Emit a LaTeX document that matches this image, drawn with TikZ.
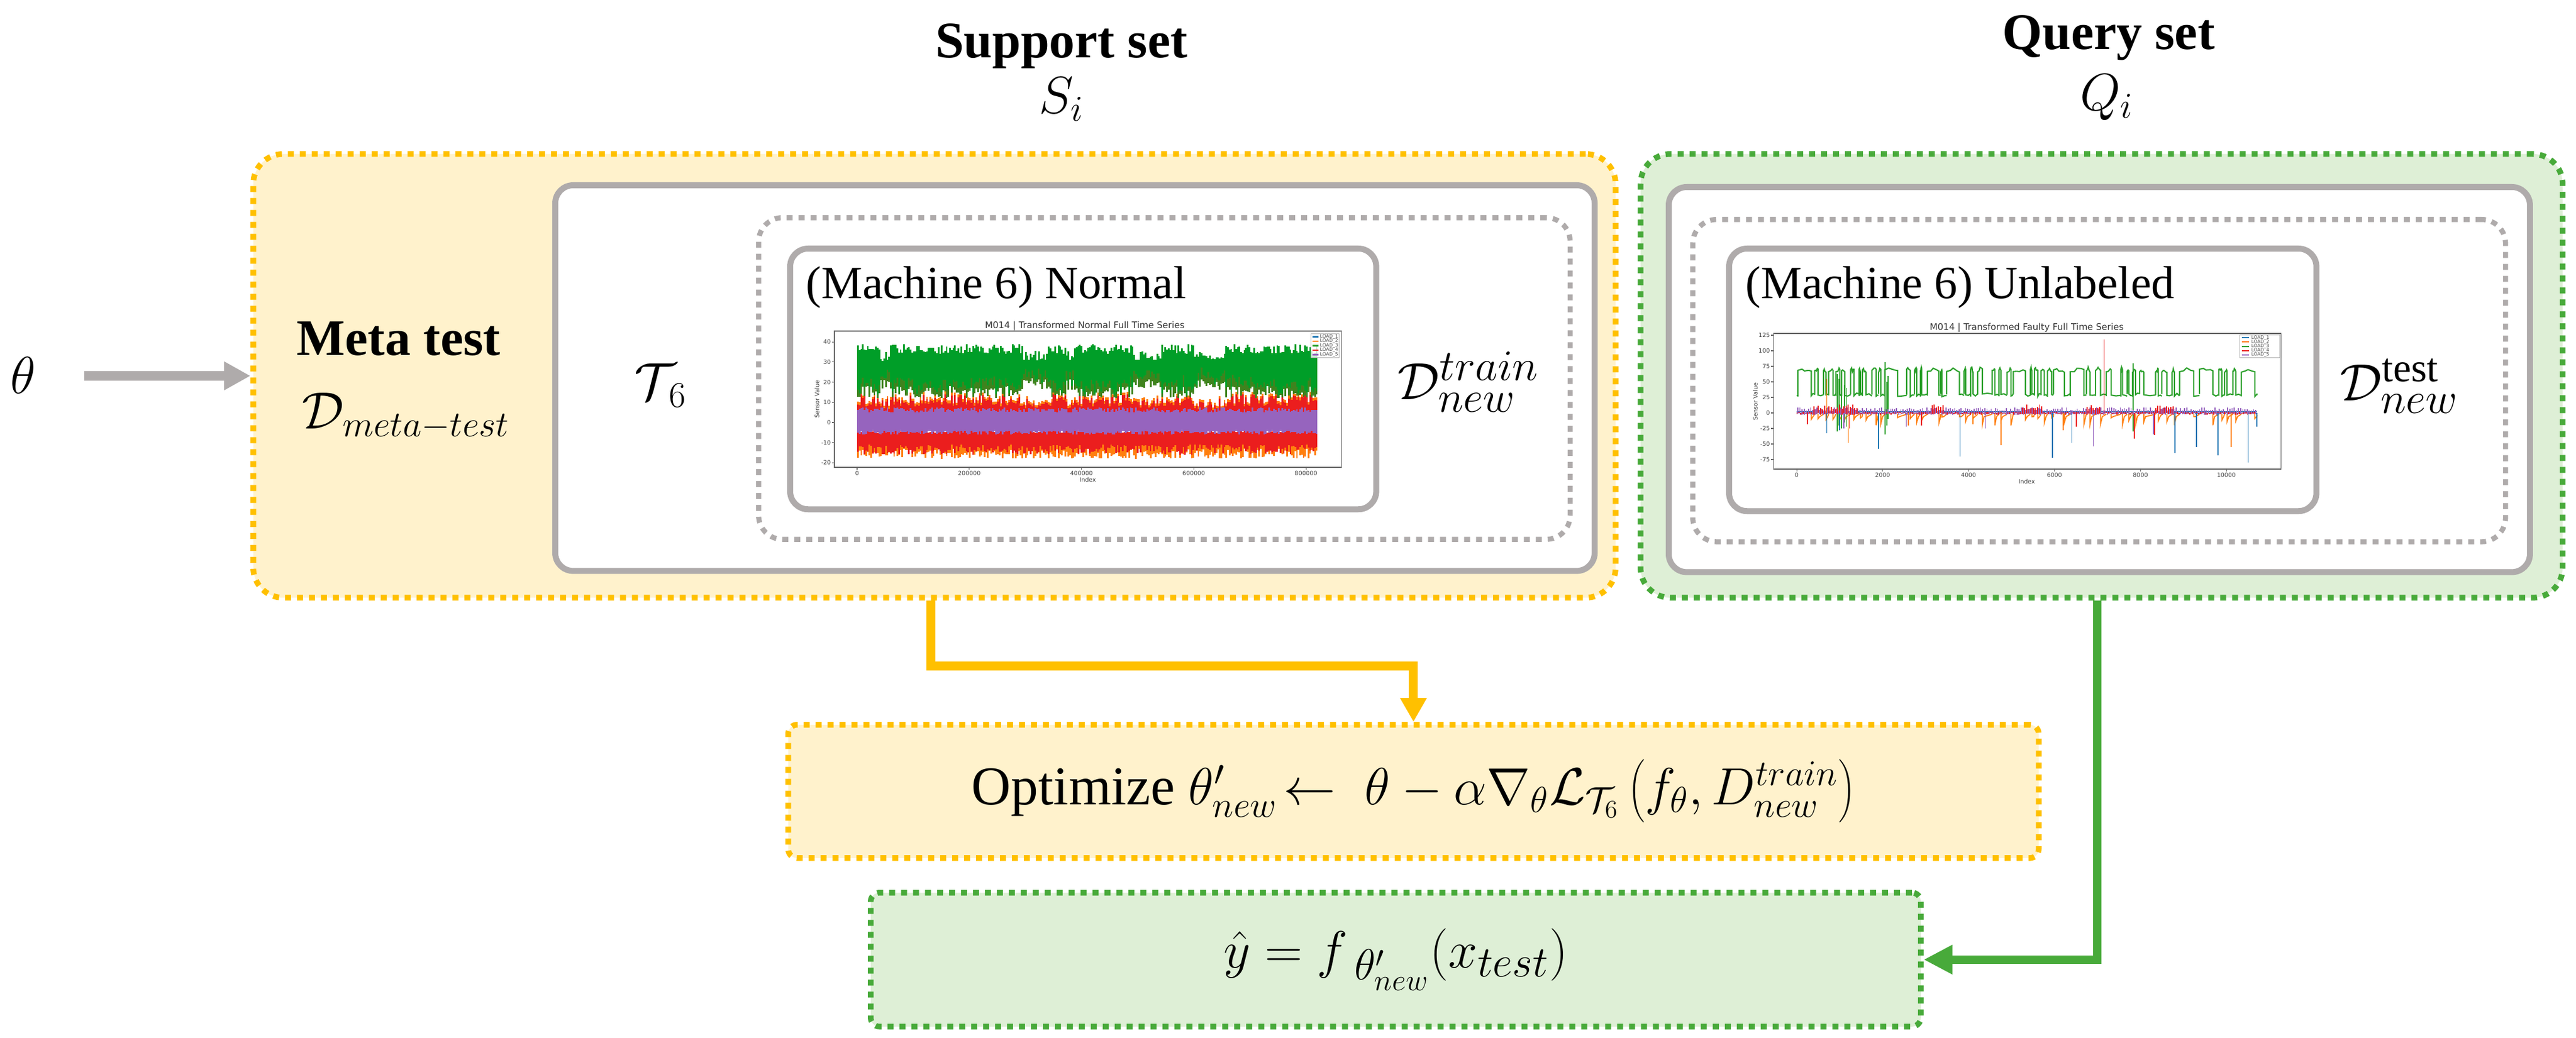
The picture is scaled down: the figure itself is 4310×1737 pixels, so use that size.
\documentclass[tikz,border=0pt]{standalone}
\usepackage{fontspec}
\setmainfont{Liberation Serif}
\newfontfamily\plotfont{DejaVu Sans}
\usetikzlibrary{arrows.meta}
\definecolor{ygold}{RGB}{255,192,0}
\definecolor{yfill}{RGB}{255,242,204}
\definecolor{ggreen}{RGB}{72,170,58}
\definecolor{gfill}{RGB}{222,239,214}
\definecolor{lgrey}{RGB}{175,171,171}
\definecolor{pblue}{RGB}{31,119,180}
\definecolor{porange}{RGB}{255,127,14}
\definecolor{pgreen}{RGB}{0,158,40}
\definecolor{pgreenb}{RGB}{44,160,44}
\definecolor{pred}{RGB}{235,30,30}
\definecolor{ppurple}{RGB}{150,100,190}
\definecolor{pbrown}{RGB}{140,100,20}
\newcommand\setfs[1]{\fontsize{#1}{#1}\selectfont}
\begin{document}
\begin{tikzpicture}[x=0.01cm,y=-0.01cm,
  outerY/.style={draw=ygold, fill=yfill, line width=0.095cm, dash pattern=on 0.1cm off 0.1cm, rounded corners=0.5cm, inner sep=0pt, anchor=north west},
  outerG/.style={draw=ggreen, fill=gfill, line width=0.095cm, dash pattern=on 0.1cm off 0.1cm, rounded corners=0.5cm, inner sep=0pt, anchor=north west},
  whitebox/.style={draw=lgrey, fill=white, line width=0.1cm, rounded corners=0.3cm, inner sep=0pt, anchor=north west},
  gdotbox/.style={draw=lgrey, line width=0.085cm, dash pattern=on 0.1cm off 0.1cm, rounded corners=0.4cm, inner sep=0pt, anchor=north west},
  plotbox/.style={draw=lgrey, fill=white, line width=0.1cm, rounded corners=0.3cm, inner sep=0pt, anchor=north west},
  titletxt/.style={font=\bfseries\setfs{24.4}, anchor=base, inner sep=0pt},
  mathtxt/.style={font=\setfs{25}, inner sep=0pt},
  machtxt/.style={font=\setfs{22}, anchor=base west, inner sep=0pt},
  ticklab/.style={font=\plotfont\setfs{2.8}, inner sep=0.3pt, text=black!75},
  axtitle/.style={font=\plotfont\setfs{4.3}, inner sep=0pt, text=black!80},
  leglab/.style={font=\plotfont\setfs{2.2}, inner sep=0pt, anchor=west, text=black!70},
  axisbox/.style={draw=black!60, line width=0.3pt},
  yarrow/.style={draw=ygold, line width=0.15cm, -{Triangle[length=0.4cm,width=0.42cm]}},
  garrow/.style={draw=ggreen, line width=0.14cm, -{Triangle[length=0.48cm,width=0.46cm]}},
  greyarrow/.style={draw=lgrey, line width=0.16cm, -{Triangle[length=0.44cm,width=0.45cm]}}
]
\useasboundingbox (0,0) rectangle (4310,1737);
\fill[white] (0,0) rectangle (4310,1737);

% ---------- titles ----------
\node[titletxt] (sst) at (1776,97) {Support set};
\node[mathtxt] (si) at (1776,166) {$S_i$};
\node[titletxt] (qst) at (3528,83) {Query set};
\node[mathtxt] (qi) at (3525,163) {$Q_i$};

% ---------- support group ----------
\node[outerY, minimum width=22.78cm, minimum height=7.42cm] (yel) at (419,253) {};
\node[whitebox, minimum width=17.38cm, minimum height=6.45cm] (ywhite) at (924,305) {};
\node[gdotbox, minimum width=13.57cm, minimum height=5.38cm] (ygdot) at (1265,360) {};
\node[plotbox, minimum width=9.8cm, minimum height=4.36cm] (yplot) at (1317,411) {};

% ---------- query group ----------
\node[outerG, minimum width=15.42cm, minimum height=7.42cm] (grn) at (2740,253) {};
\node[whitebox, minimum width=14.4cm, minimum height=6.44cm] (gwhite) at (2787,308) {};
\node[gdotbox, minimum width=13.59cm, minimum height=5.39cm] (ggdot) at (2828,363) {};
\node[plotbox, minimum width=9.82cm, minimum height=4.39cm] (gplot) at (2888,411) {};

% ---------- labels ----------
\node[font=\bfseries\setfs{24.4}, anchor=base west, inner sep=0pt] (mt) at (496,595) {Meta test};
\node[mathtxt, anchor=base west] (dmt) at (505,717) {$\mathcal{D}_{meta-test}$};
\node[mathtxt, font=\setfs{26}] (t6) at (1105,645) {$\mathcal{T}_{\,6}$};
\node[mathtxt, font=\setfs{28}, anchor=base west] (dtr) at (2338,668) {$\mathcal{D}_{new}^{train}$};
\node[mathtxt, font=\setfs{27.5}, anchor=base west] (dte) at (3915,670) {$\mathcal{D}_{new}^{\mathrm{test}}$};
\node[machtxt] (mn) at (1348,500) {(Machine 6) Normal};
\node[machtxt] (mu) at (2920,500) {(Machine 6) Unlabeled};

% ---------- theta ----------
\node[mathtxt] (theta) at (39,628) {$\theta$};
\draw[greyarrow] ([xshift=0.8cm]theta.east |- yel.west) -- (yel.west);

% ---------- normal plot ----------
\node[axtitle] (nt) at (1815,546) {M014 | Transformed Normal Full Time Series};
\draw[axisbox] (1396,554) rectangle (2244,782);
\pgfmathsetseed{7}
\begin{scope}[shift={(1434,707)}, x=0.0093875cm, y=0.0337cm]
  \foreach \i in {0,...,279}{
    \pgfmathsetmacro\mxa{\i*2.93}
    \pgfmathtruncatemacro\mdip{and(\mxa>40,\mxa<58)+and(\mxa>295,\mxa<335)+and(\mxa>490,\mxa<540)+and(\mxa>600,\mxa<655)+and(\mxa>370,\mxa<385)}
    \pgfmathsetmacro\mghi{34+5*rnd-3.5*\mdip}
    \pgfmathsetmacro\mglo{12+6*rnd+4*\mdip}
    \pgfmathsetmacro\mrhi{9+6*rnd-2*\mdip}
    \pgfmathsetmacro\mbr{\mglo+1+5*rnd}
    \fill[pred] (\mxa,2) rectangle ({\mxa+3.1},\mrhi);
    \fill[porange] (\mxa,{\mrhi-1}) rectangle ({\mxa+3.1},{\mrhi+0.3});
    \fill[pgreen] (\mxa,\mglo) rectangle ({\mxa+3.1},\mghi);
    \fill[pbrown, opacity=0.45] (\mxa,\mglo) rectangle ({\mxa+3.1},\mbr);
    \fill[porange] (\mxa,-11) rectangle ({\mxa+3.1},{-13-5*rnd});
    \fill[pred] (\mxa,{-3-2*rnd}) rectangle ({\mxa+3.1},{-11-5*rnd});
    \fill[ppurple] (\mxa,{-4-2*rnd}) rectangle ({\mxa+3.1},{5+2.5*rnd});
  }
\end{scope}
\foreach \v in {40,30,20,10,0,-10,-20}{
  \draw[black!60, line width=0.3pt] (1396,{707-3.37*\v}) -- (1392,{707-3.37*\v});
  \node[ticklab, anchor=east] at (1392,{707-3.37*\v}) {\v};
}
\foreach \v/\l in {0/0,200/200000,400/400000,600/600000,800/800000}{
  \draw[black!60, line width=0.3pt] ({1434+0.93875*\v},782) -- ({1434+0.93875*\v},786);
  \node[ticklab, anchor=north] at ({1434+0.93875*\v},786) {\l};
}
\node[ticklab] at (1820,803) {Index};
\node[ticklab, rotate=90] at (1367,668) {Sensor Value};
\draw[black!30, line width=0.2pt, fill=white, fill opacity=0.8] (2193,558) rectangle (2240,598);
\foreach \c/\k in {pblue/1,porange/2,pgreenb/3,pred/4,ppurple/5}{
  \draw[\c, line width=0.6pt] (2196,{556+7.5*\k}) -- (2206,{556+7.5*\k});
  \node[leglab] at (2208,{556+7.5*\k}) {LOAD\_\k};
}

% ---------- unlabeled plot ----------
\node[axtitle] (ut) at (3391,549) {M014 | Transformed Faulty Full Time Series};
\draw[axisbox] (2967,558) rectangle (3816,785);
\pgfmathsetseed{11}
\begin{scope}[shift={(3006,691)}, x=0.0719cm, y=0.0104cm]
  \begin{scope}
  \clip (0,-100) rectangle (107.2,130);
  % blue
  \draw[pblue, line width=0.5pt] (0,2) -- (107,2);
  \draw[pgreenb, line width=0.6pt] (0,28) -- (0.3,28);
  \gdef\mcx{0.3}
  \foreach \i in {1,...,62}{
    \pgfmathsetmacro\mxs{\mcx}
    \pgfmathsetmacro\mw{0.3+0.9*rnd+2.2*(rnd>0.87)}
    \pgfmathsetmacro\mg{0.4+1.2*rnd+1.2*(rnd>0.85)}
    \pgfmathsetmacro\mlo{26+5*rnd}
    \pgfmathsetmacro\mha{65+6*rnd}
    \pgfmathsetmacro\mhb{66+8*rnd}
    \pgfmathsetmacro\mhc{65+6*rnd}
    \pgfmathsetmacro\mod{-6-14*rnd}
    \pgfmathsetmacro\mxe{\mxs+\mw}
    \pgfmathsetmacro\mxn{\mxe+\mg}
    \draw[porange, line width=0.5pt] (\mxe,-1) -- (\mxe,\mod) -- ({\mxe+0.4},-6) -- (\mxn,-2);
    \draw[pgreenb, line width=0.6pt] (\mxs,\mlo) -- (\mxs,\mha) -- ({\mxs+\mw*0.3},{\mha+3*rnd}) -- ({\mxs+\mw*0.5},\mhb) -- ({\mxs+\mw*0.8},{\mhc+3*rnd}) -- (\mxe,\mhc) -- (\mxe,{26+5*rnd}) -- ({\mxe+\mg*0.5},{27+5*rnd}) -- (\mxn,{27+4*rnd});
    \global\let\mcx\mxn
  }
  % green noisy region
  \foreach \x/\a/\b in {9.4/-30/62,9.9/-20/55,10.4/-25/50,11.1/-15/45,11.6/-22/40,20.6/-35/82,21.0/-20/50,21.3/-10/60,78.2/-30/80}{
    \draw[pgreenb, line width=0.5pt] (\x,\a) -- (\x,\b);
  }
  % red
  \foreach \i in {0,...,213}{
    \pgfmathsetmacro\mxa{\i*0.5}
    \pgfmathtruncatemacro\mblk{and(\mxa>3.5,\mxa<14.5)+and(\mxa>31,\mxa<34.5)+and(\mxa>52,\mxa<57.5)+and(\mxa>67,\mxa<71)+and(\mxa>83,\mxa<88)}
    \draw[pred, line width=0.55pt] (\mxa,{-3*rnd}) -- (\mxa,{2*rnd+\mblk*(5+7*rnd)});
  }
  % purple
  \foreach \i in {0,...,213}{
    \pgfmathsetmacro\mxa{\i*0.5+0.25}
    \draw[ppurple, line width=0.5pt] (\mxa,{-1-2*rnd}) -- (\mxa,{3+6*rnd});
  }
  % spikes
  \foreach \x/\v in {7/-33,10/-28,19/-58,38/-70,59.5/-72,64/-48,88/-64,93/-55,98/-68,105/-80,107/-22}{
    \draw[pblue, line width=0.5pt] (\x,0) -- (\x,\v);
  }
  \foreach \x/\v in {12/-48,47.5/-52,101/-55,7/55,26/-20,62/-28,41/-18}{
    \draw[porange, line width=0.5pt] (\x,0) -- (\x,\v);
  }
  \foreach \x/\v in {69/-54,11/-25,25.5/-22,44/-25,83/-35}{
    \draw[ppurple, line width=0.5pt] (\x,0) -- (\x,\v);
  }
  \foreach \x/\v in {71.5/118,78.5/-41,83.3/-36,2.5/-18,12.3/-25,29/-20,65/-22}{
    \draw[pred, line width=0.5pt] (\x,0) -- (\x,\v);
  }
  \end{scope}
\end{scope}
\foreach \v in {125,100,75,50,25,0,-25,-50,-75}{
  \draw[black!60, line width=0.3pt] (2967,{691-1.04*\v}) -- (2963,{691-1.04*\v});
  \node[ticklab, anchor=east] at (2963,{691-1.04*\v}) {\v};
}
\foreach \v in {0,2000,4000,6000,8000,10000}{
  \draw[black!60, line width=0.3pt] ({3006+0.0719*\v},785) -- ({3006+0.0719*\v},789);
  \node[ticklab, anchor=north] at ({3006+0.0719*\v},789) {\v};
}
\node[ticklab] at (3391,806) {Index};
\node[ticklab, rotate=90] at (2937,672) {Sensor Value};
\draw[black!30, line width=0.2pt, fill=white, fill opacity=0.8] (3747,560) rectangle (3814,598);
\foreach \c/\k in {pblue/1,porange/2,pgreenb/3,pred/4,ppurple/5}{
  \draw[\c, line width=0.6pt] (3751,{558+7.2*\k}) -- (3763,{558+7.2*\k});
  \node[leglab] at (3766,{558+7.2*\k}) {LOAD\_\k};
}

% ---------- bottom boxes ----------
\node[outerY, minimum width=20.91cm, minimum height=2.23cm, rounded corners=0.15cm] (opt) at (1314,1208) {};
\node[font=\setfs{26}, inner sep=0pt] (optt) at (opt.center) {Optimize $\theta'_{new}\!\leftarrow\;\theta-\alpha\nabla_{\theta}\mathcal{L}_{\mathcal{T}_6}\left(f_{\theta}, D_{new}^{train}\right)$};
\node[outerG, minimum width=17.56cm, minimum height=2.24cm, rounded corners=0.15cm] (res) at (1452,1489) {};
\node[font=\setfs{29}, inner sep=0pt] (rest) at (res.center) {$\hat{y}=f_{\;\theta'_{new}}(x_{test})$};

% ---------- connectors ----------
\coordinate (ysx) at (1557,0);
\coordinate (gsx) at (3509,0);
\draw[yarrow] (ysx |- yel.south) -- ++(0,110) -| (opt.north);
\draw[garrow] (gsx |- grn.south) |- (res.east);
\end{tikzpicture}
\end{document}
